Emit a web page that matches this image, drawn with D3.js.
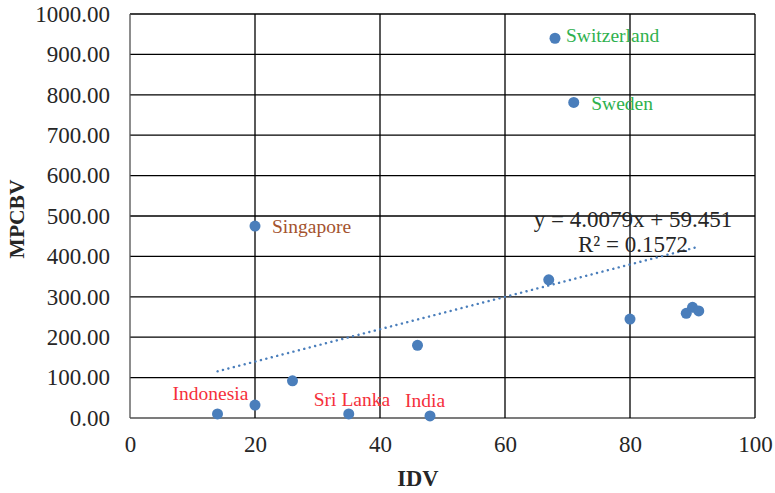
<!DOCTYPE html>
<html><head><meta charset="utf-8">
<script src="https://cdn.jsdelivr.net/npm/d3@7/dist/d3.min.js"></script>
<style>body{margin:0;background:#fff}svg, svg text{font-family:"Liberation Serif","Times New Roman",serif !important}</style>
</head><body><svg id="c" width="775" height="493"></svg>
<script>
const idv   = [68, 71, 20, 67, 80, 89, 90, 91, 46, 26, 14, 20, 35, 48];
const mpcbv = [940, 781, 475, 342, 245, 259, 274, 265, 180, 92, 10, 32, 10, 5];
const names = ["Switzerland","Sweden","Singapore","","","","","","","","Indonesia","","Sri Lanka","India"];
const labelColors = ["#2fb14e","#2fb14e","#a4532e","","","","","","","","#f5303b","","#f5303b","#f5303b"];
const xTicks = [0,20,40,60,80,100];
const yTicks = [0,100,200,300,400,500,600,700,800,900,1000];
const slope = 4.0079, intercept = 59.451;
const eqText = "y = 4.0079x + 59.451", r2Text = "R² = 0.1572";

const svg = d3.select("#c");
const x = d3.scaleLinear().domain([0,100]).range([130,755]);
const y = d3.scaleLinear().domain([0,1000]).range([418,14]);

// grid
svg.append("g").selectAll("line").data(yTicks).join("line")
  .attr("x1",x(0)).attr("x2",x(100)).attr("y1",d=>y(d)).attr("y2",d=>y(d))
  .attr("stroke",d=>d===0?"#505050":"#000").attr("stroke-width",1.3);
svg.append("g").selectAll("line").data(xTicks).join("line")
  .attr("y1",y(0)).attr("y2",y(1000)).attr("x1",d=>x(d)).attr("x2",d=>x(d))
  .attr("stroke",d=>d===0?"#505050":"#000").attr("stroke-width",1.3);

// axes labels
const yAxis = d3.axisLeft(y).tickValues(yTicks).tickFormat(d3.format(".2f")).tickSize(0).tickPadding(20);
const gy = svg.append("g").attr("transform",`translate(${x(0)},0)`).call(yAxis);
gy.attr("font-family",null).attr("font-size",null);
gy.select(".domain").remove();
gy.selectAll("text").attr("font-size",23).attr("fill","#262626");
const xAxis = d3.axisBottom(x).tickValues(xTicks).tickFormat(d3.format("d")).tickSize(0).tickPadding(18);
const gx = svg.append("g").attr("transform",`translate(0,${y(0)})`).call(xAxis);
gx.attr("font-family",null).attr("font-size",null);
gx.select(".domain").remove();
gx.selectAll("text").attr("font-size",23).attr("fill","#262626");

// trendline
const xmin = d3.min(idv), xmax = d3.max(idv);
svg.append("line").attr("x1",x(xmin)).attr("y1",y(slope*xmin+intercept))
  .attr("x2",x(xmax)).attr("y2",y(slope*xmax+intercept))
  .attr("stroke","#4a7ebb").attr("stroke-width",2.4).attr("stroke-dasharray","0.1,5.5").attr("stroke-linecap","round");

// points
const data = idv.map((v,i)=>({x:v,y:mpcbv[i],n:names[i],c:labelColors[i]}));
svg.append("g").selectAll("circle").data(data).join("circle")
  .attr("cx",d=>x(d.x)).attr("cy",d=>y(d.y)).attr("r",5.5).attr("fill","#4a7ebb");

// data labels
const off = {"Switzerland":[11,4],"Sweden":[17.5,7.5],"Singapore":[17,7],"Indonesia":[-45,-14],"Sri Lanka":[-35,-8],"India":[-25,-9]};
svg.append("g").selectAll("text").data(data.filter(d=>d.n)).join("text")
  .attr("x",d=>x(d.x)+off[d.n][0]).attr("y",d=>y(d.y)+off[d.n][1])
  .attr("font-size",19.5).attr("fill",d=>d.c).text(d=>d.n);

// equation
svg.append("text").attr("x",633).attr("y",227).attr("text-anchor","middle").attr("font-size",23).attr("fill","#262626").text(eqText);
svg.append("text").attr("x",633).attr("y",252).attr("text-anchor","middle").attr("font-size",23).attr("fill","#262626").text(r2Text);

// axis titles
svg.append("text").attr("x",418).attr("y",486).attr("text-anchor","middle").attr("font-size",22.5).attr("font-weight","bold").attr("fill","#262626").text("IDV");
svg.append("text").attr("transform","translate(24,219) rotate(-90)").attr("text-anchor","middle").attr("font-size",21.5).attr("font-weight","bold").attr("fill","#262626").text("MPCBV");
</script></body></html>
